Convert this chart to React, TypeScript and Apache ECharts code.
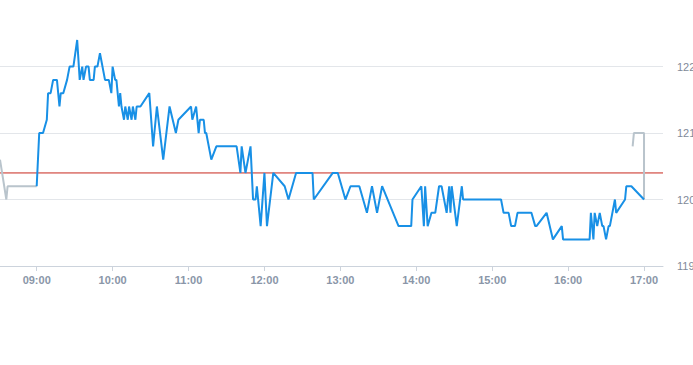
import React, { useEffect, useRef } from "react";
import * as echarts from "echarts";

// Main session price series [time, price]
const mainTimes = [
  "09:00","09:02","09:05","09:08","09:09","09:11","09:13","09:16","09:18","09:19","09:21","09:24","09:26","09:29",
  "09:32","09:34","09:36","09:37","09:39","09:41","09:42","09:45","09:46","09:48","09:50","09:54","09:57","09:59",
  "10:00","10:02","10:03","10:05","10:06","10:07","10:09","10:10","10:12","10:13","10:15","10:16","10:18","10:19",
  "10:22","10:29","10:32","10:35","10:40","10:45","10:50","10:52","11:02","11:03","11:06","11:08","11:09","11:12",
  "11:13","11:14","11:18","11:22","11:38","11:41","11:42","11:45","11:49","11:51","11:53","11:54","11:57","12:00",
  "12:02","12:07","12:16","12:19","12:25","12:38","12:39","12:54","12:58","13:04","13:08","13:15","13:21","13:25",
  "13:29","13:33","13:46","13:56","13:57","14:04","14:06","14:07","14:09","14:12","14:15","14:18","14:20","14:24",
  "14:26","14:27","14:28","14:32","14:36","14:37","15:07","15:09","15:13","15:15","15:18","15:20","15:31","15:34",
  "15:35","15:43","15:48","15:55","15:56","16:17","16:18","16:20","16:21","16:23","16:25","16:27","16:28","16:30",
  "16:32","16:33","16:37","16:38","16:45","16:46","16:50","17:00"
];
const mainPrices = [
  120.2,121.0,121.0,121.2,121.6,121.6,121.8,121.8,121.4,121.6,121.6,121.8,122.0,122.0,
  122.4,121.8,122.0,121.8,122.0,122.0,121.8,121.8,122.0,122.0,122.2,121.8,121.8,121.6,
  122.0,121.8,121.8,121.4,121.6,121.4,121.2,121.4,121.2,121.4,121.2,121.4,121.2,121.4,
  121.4,121.6,120.8,121.4,120.6,121.4,121.0,121.2,121.4,121.2,121.4,121.0,121.2,121.2,
  121.0,121.0,120.6,120.8,120.8,120.4,120.8,120.4,120.8,120.0,120.0,120.2,119.6,120.4,
  119.6,120.4,120.2,120.0,120.4,120.4,120.0,120.4,120.4,120.0,120.2,120.2,119.8,120.2,
  119.8,120.2,119.6,119.6,120.0,120.2,119.6,120.2,119.6,119.8,119.8,120.2,120.2,119.8,
  120.2,119.8,120.2,119.6,120.2,120.0,120.0,119.8,119.8,119.6,119.6,119.8,119.8,119.6,
  119.6,119.8,119.4,119.6,119.4,119.4,119.8,119.4,119.8,119.6,119.8,119.6,119.6,119.4,
  119.6,119.6,120.0,119.8,120.0,120.2,120.2,120.0
];

// Pre / post session (grey)
const preTimes = ["08:31","08:36","08:37","09:00"];
const prePrices = [120.6,120.0,120.2,120.2];
const postTimes = ["16:51","16:52","17:00","17:00"];
const postPrices = [120.8,121.0,121.0,120.0];

// Reference (previous close) level
const refPrice = 120.4;

// Axes
const xTickTimes = ["09:00","10:00","11:00","12:00","13:00","14:00","15:00","16:00","17:00"];
const xMinTime = "08:31";
const xMaxTime = "17:15";
const yMin = 119;
const yMax = 122.4;
const yTicks = [119, 120, 121, 122];

const toMin = (t: string) => {
  const [h, m] = t.split(":").map(Number);
  return h * 60 + m;
};
const fmt = (v: number) => {
  const h = Math.floor(v / 60);
  const m = Math.round(v % 60);
  return String(h).padStart(2, "0") + ":" + String(m).padStart(2, "0");
};
const pairs = (ts: string[], vs: number[]) => ts.map((t, i) => [toMin(t), vs[i]]);

export default function App() {
  const ref = useRef<HTMLDivElement>(null);
  useEffect(() => {
    if (!ref.current) return;
    const chart = echarts.init(ref.current, undefined, { renderer: "svg" });
    const tickVals = xTickTimes.map(toMin);
    const xMin = toMin(xMinTime);
    const xMax = toMin(xMaxTime);
    chart.setOption({
      animation: false,
      textStyle: { fontFamily: "Liberation Sans, Arial, sans-serif" },
      grid: { left: 0, right: 30, top: 40, bottom: 99, containLabel: false, outerBoundsMode: "none" },
      xAxis: {
        type: "value",
        min: xMin,
        max: xMax,
        axisLine: { show: true, lineStyle: { color: "#ccd3dc", width: 1 } },
        axisTick: { show: true, customValues: tickVals, length: 5, lineStyle: { color: "#ccd3dc" } },
        axisLabel: {
          customValues: tickVals,
          formatter: (v: number) => fmt(v),
          color: "#8a96a8",
          fontSize: 11,
          fontWeight: "bold",
          margin: 8,
        },
        splitLine: { show: false },
      },
      yAxis: {
        type: "value",
        position: "right",
        min: yMin,
        max: yMax,
        interval: 1,
        axisLine: { show: false },
        axisTick: { show: false },
        axisLabel: {
          customValues: yTicks,
          formatter: (v: number) => String(Math.round(v)),
          color: "#7f8a99",
          fontSize: 11,
          margin: 14,
        },
        splitLine: { show: true, showMaxLine: false, lineStyle: { color: "#e3e6ea", width: 1 } },
      },
      series: [
        {
          type: "line",
          data: [[xMin, refPrice], [xMax, refPrice]],
          symbol: "none",
          silent: true,
          lineStyle: { color: "#c8281e", width: 1 },
          itemStyle: { color: "#c8281e" },
          z: 1,
        },
        {
          type: "line",
          data: pairs(preTimes, prePrices),
          symbol: "none",
          lineStyle: { color: "#b9c4cc", width: 2 },
          itemStyle: { color: "#b9c4cc" },
          z: 2,
        },
        {
          type: "line",
          data: pairs(postTimes, postPrices),
          symbol: "none",
          lineStyle: { color: "#b9c4cc", width: 2 },
          itemStyle: { color: "#b9c4cc" },
          z: 2,
        },
        {
          type: "line",
          data: pairs(mainTimes, mainPrices),
          symbol: "none",
          lineStyle: { color: "#1890e6", width: 2 },
          itemStyle: { color: "#1890e6" },
          z: 3,
        },
      ],
    });
    return () => chart.dispose();
  }, []);
  return (
    <div
      ref={ref}
      style={{ position: "fixed", left: 0, top: 0, width: 693, height: 365, background: "#fff" }}
    />
  );
}
